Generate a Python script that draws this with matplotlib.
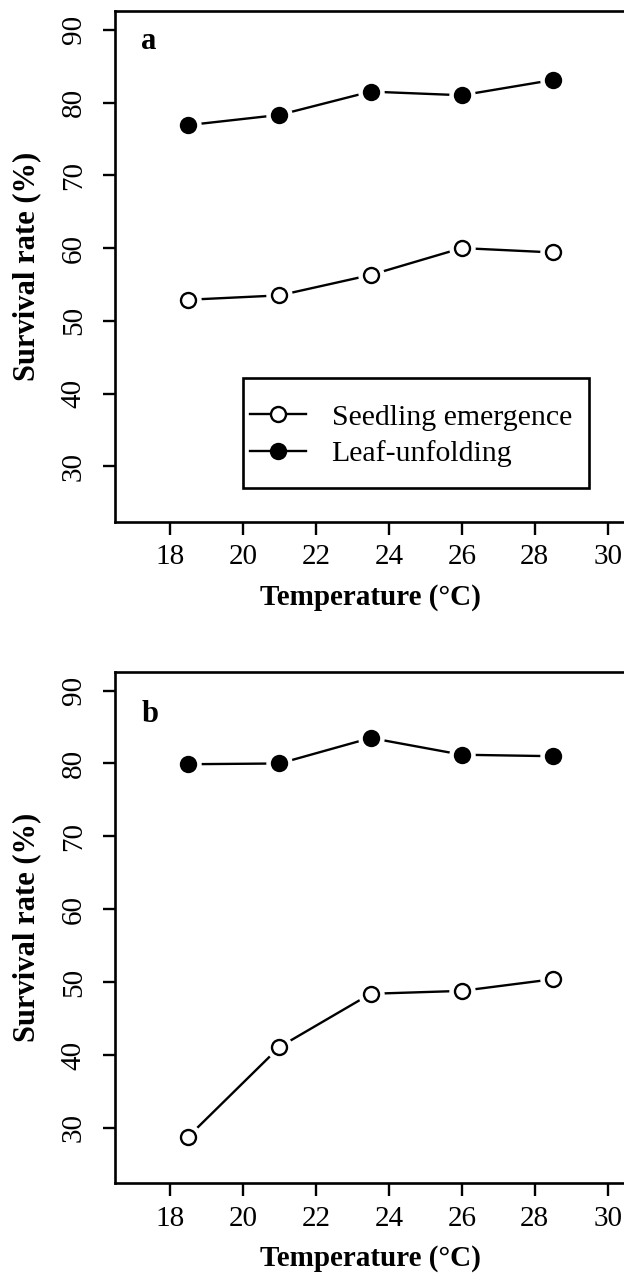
import matplotlib.pyplot as plt
from matplotlib.lines import Line2D
from matplotlib.patches import Rectangle

plt.rcParams['font.family'] = ['Liberation Serif', 'DejaVu Serif']

temp = [18.5, 21, 23.5, 26, 28.5]

seedling_a = [52.9, 53.5, 56.3, 60.0, 59.4]
leaf_a = [76.9, 78.3, 81.5, 81.0, 83.1]

seedling_b = [28.8, 41.1, 48.4, 48.8, 50.4]
leaf_b = [79.9, 80.0, 83.5, 81.2, 81.0]

xticks = [18, 20, 22, 24, 26, 28, 30]
yticks = [30, 40, 50, 60, 70, 80, 90]
labels = ['Seedling emergence', 'Leaf-unfolding']


def panel(ax, seed, leaf, tag, tag_y):
    for vals, face in [(seed, 'white'), (leaf, 'black')]:
        ax.plot(temp, vals, color='black', lw=1.7, zorder=2)
        # white halo gives the gap between line and point (R type="b")
        ax.plot(temp, vals, ls='none', marker='o', ms=18, mfc='white', mec='white', zorder=3)
        ax.plot(temp, vals, ls='none', marker='o', ms=10.8, mfc=face, mec='black', mew=1.7, zorder=4)

    ax.set_xlim(16.48, 30.52)
    ax.set_ylim(22.4, 92.6)
    ax.set_xticks(xticks)
    ax.set_yticks(yticks)
    for s in ax.spines.values():
        s.set_linewidth(1.9)
    ax.tick_params(length=9, width=1.7, labelsize=21)
    ax.tick_params(axis='y', pad=11)
    ax.tick_params(axis='x', pad=7)
    for lbl in ax.get_yticklabels():
        lbl.set_rotation(90)
        lbl.set_va('center')
    ax.set_xlabel('Temperature (°C)', fontsize=21, fontweight='bold', labelpad=10)
    ax.set_ylabel('Survival rate (%)', fontsize=22, fontweight='bold', labelpad=14)
    ax.text(0.052, tag_y, tag, transform=ax.transAxes, fontsize=22,
            fontweight='bold', ha='left', va='baseline')


fig = plt.figure(figsize=(6.24, 12.74), dpi=100)
ax_a = fig.add_axes([0.1837, 0.5905, 0.8205, 0.4010])
ax_b = fig.add_axes([0.1837, 0.0712, 0.8205, 0.4016])

panel(ax_a, seedling_a, leaf_a, 'a', 0.925)
panel(ax_b, seedling_b, leaf_b, 'b', 0.902)

handles = [Line2D([], [], color='black', lw=1.7, marker='o', ms=10.8, mfc=f, mec='black', mew=1.7)
           for f in ['white', 'black']]
ax_a.legend(handles, labels, loc='upper left', bbox_to_anchor=(0.2645, 0.2305),
            frameon=False, fontsize=21.5, handlelength=1.88, handletextpad=0.85,
            borderpad=0, labelspacing=0.32, borderaxespad=0)
ax_a.add_patch(Rectangle((0.2498, 0.066), 0.6768, 0.2154, transform=ax_a.transAxes,
                         fill=False, lw=1.9, ec='black', zorder=5))

fig.savefig('out.png', dpi=100)
